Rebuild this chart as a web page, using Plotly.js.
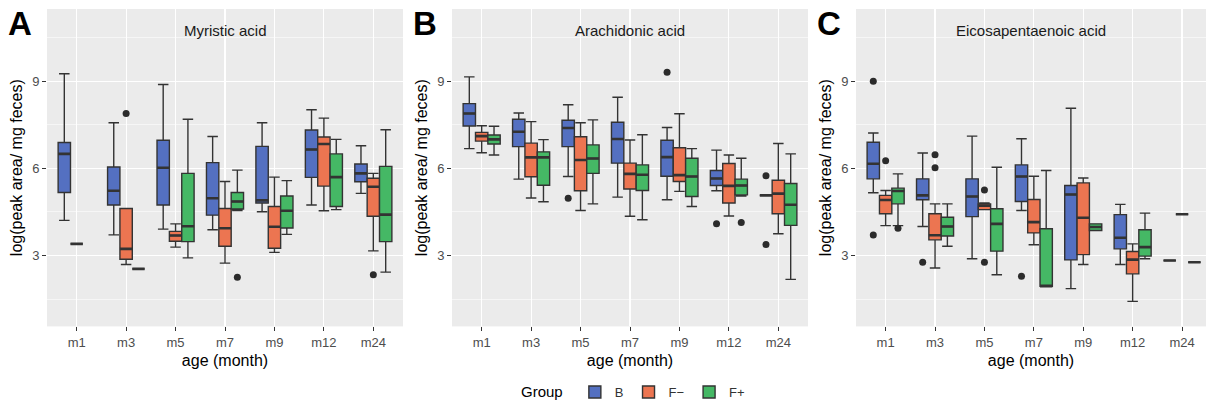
<!DOCTYPE html>
<html>
<head>
<meta charset="utf-8">
<script src="https://cdn.plot.ly/plotly-3.0.1.min.js"></script>
<style>html,body{margin:0;padding:0;overflow:hidden;background:#fff}#chart{width:1206px;height:407px}</style>
</head>
<body>
<div id="chart"></div>
<script>
// ---- data (each entry: [lower whisker, Q1, median, Q3, upper whisker]; null = no data) ----
const categories = ['m1', 'm3', 'm5', 'm7', 'm9', 'm12', 'm24'];
const groups = ['B', 'F\u2212', 'F+'];
const panelTitles = ['Myristic acid', 'Arachidonic acid', 'Eicosapentaenoic acid'];
const panelLetters = ['A', 'B', 'C'];

const myristic_B  = [[4.21,5.17,6.50,6.89,9.26],[3.71,4.74,5.23,6.05,7.57],[3.91,4.74,6.02,6.97,8.89],[3.89,4.39,4.97,6.20,7.10],[4.51,4.81,4.90,6.76,7.57],[4.74,5.69,6.65,7.32,8.02],[5.14,5.54,5.83,6.15,6.78]];
const myristic_Fm = [[3.40,3.40,3.40,3.40,3.40],[2.69,2.87,3.23,4.62,4.62],[3.29,3.49,3.69,3.83,4.09],[2.74,3.32,3.94,4.62,5.55],[3.11,3.25,3.99,4.69,5.70],[4.54,5.39,6.84,7.08,7.73],[3.16,4.35,5.37,5.66,5.83]];
const myristic_Fp = [null,[2.54,2.54,2.54,2.54,2.54],[2.92,3.48,4.01,5.83,7.69],[4.55,4.60,4.86,5.17,5.94],[3.73,3.95,4.54,5.05,5.58],[4.58,4.69,5.70,6.50,7.00],[2.43,3.48,4.41,6.07,7.33]];

const arachidonic_B  = [[6.68,7.46,7.89,8.23,9.15],[5.63,6.75,7.26,7.69,7.91],[5.72,6.75,7.39,7.66,8.19],[5.01,6.18,7.01,7.59,8.45],[4.92,5.73,6.39,6.97,7.41],[5.23,5.41,5.65,5.93,6.63],[5.07,5.07,5.07,5.07,5.07]];
const arachidonic_Fm = [[6.54,6.94,7.11,7.24,7.47],[4.98,5.71,6.38,6.87,7.61],[4.55,5.23,6.29,7.09,7.57],[4.35,5.29,5.81,6.18,6.98],[5.21,5.55,5.77,6.71,7.88],[4.36,4.81,5.40,6.17,6.46],[3.75,4.44,5.13,5.59,6.86]];
const arachidonic_Fp = [[6.46,6.84,7.00,7.15,7.45],[4.85,5.42,6.38,6.57,6.99],[4.78,5.83,6.34,6.81,7.67],[4.23,5.24,5.78,6.12,7.16],[4.69,5.03,5.72,6.35,6.68],[5.05,5.09,5.41,5.63,6.35],[2.18,4.04,4.75,5.48,6.50]];

const epa_B  = [[5.16,5.64,6.16,6.90,7.22],[4.00,4.92,5.07,5.64,6.53],[2.89,4.34,5.03,5.64,7.11],[4.55,4.86,5.72,6.12,7.02],[1.86,2.85,5.10,5.41,8.07],[2.69,3.23,3.61,4.41,4.76],[2.83,2.83,2.83,2.83,2.83]];
const epa_Fm = [[4.03,4.44,4.91,5.07,5.24],[2.57,3.54,3.70,4.44,4.78],[4.58,4.58,4.72,4.78,4.81],[3.37,3.78,4.15,4.93,5.73],[2.69,3.03,4.30,5.50,5.67],[1.42,2.37,2.86,3.14,3.40],[4.42,4.42,4.42,4.42,4.42]];
const epa_Fp = [[4.03,4.78,5.22,5.32,5.81],[3.32,3.67,4.00,4.32,4.78],[2.34,3.15,4.09,4.61,6.04],[1.94,1.94,1.94,3.92,5.93],[3.86,3.86,3.98,4.09,4.09],[2.89,2.98,3.29,3.89,4.46],[2.77,2.77,2.77,2.77,2.77]];

// outliers: [category, value]
const myristic_out_B  = [];
const myristic_out_Fm = [['m3',7.89],['m24',2.34]];
const myristic_out_Fp = [['m7',2.25]];
const arachidonic_out_B  = [['m5',4.97],['m9',9.31],['m12',4.09],['m24',5.75],['m24',3.38]];
const arachidonic_out_Fm = [];
const arachidonic_out_Fp = [['m12',4.14]];
const epa_out_B  = [['m1',9.00],['m1',3.71],['m3',2.77],['m7',2.29]];
const epa_out_Fm = [['m1',6.26],['m3',6.47],['m3',6.02],['m5',5.26],['m5',2.77]];
const epa_out_Fp = [['m1',3.94]];

const groupColors = ['#5470C1', '#EC7551', '#45B865'];

// ---- assemble ----
const panels = [
  {stats: [myristic_B, myristic_Fm, myristic_Fp], out: [myristic_out_B, myristic_out_Fm, myristic_out_Fp]},
  {stats: [arachidonic_B, arachidonic_Fm, arachidonic_Fp], out: [arachidonic_out_B, arachidonic_out_Fm, arachidonic_out_Fp]},
  {stats: [epa_B, epa_Fm, epa_Fp], out: [epa_out_B, epa_out_Fm, epa_out_Fp]}
];
const groupOffset = [-0.25, 0, 0.25];
const boxWidth = 0.25;
const FONT = 'Liberation Sans, Arial, Helvetica, sans-serif';
const W = 1206, H = 407;
const px2x = p => p / W;
const px2y = p => 1 - p / H;

const traces = [];
panels.forEach((pn, pi) => {
  const xa = pi === 0 ? 'x' : 'x' + (pi + 1);
  const ya = pi === 0 ? 'y' : 'y' + (pi + 1);
  pn.stats.forEach((arr, gi) => {
    const xs = [], lo = [], q1 = [], md = [], q3 = [], hi = [];
    arr.forEach((s, ci) => {
      if (!s) return;
      xs.push(ci + groupOffset[gi]);
      lo.push(s[0]); q1.push(s[1]); md.push(s[2]); q3.push(s[3]); hi.push(s[4]);
    });
    traces.push({
      type: 'box', xaxis: xa, yaxis: ya, name: groups[gi], legendgroup: groups[gi],
      showlegend: pi === 0, x: xs, q1: q1, median: md, q3: q3, lowerfence: lo, upperfence: hi,
      width: boxWidth, whiskerwidth: 0.85, fillcolor: groupColors[gi],
      line: {color: '#333333', width: 1.4}, boxpoints: false, hoverinfo: 'skip'
    });
    // thicker median line (ggplot style)
    traces.push({
      type: 'box', xaxis: xa, yaxis: ya, name: groups[gi], legendgroup: groups[gi],
      showlegend: false, x: xs, q1: md, median: md, q3: md, lowerfence: md, upperfence: md,
      width: boxWidth, whiskerwidth: 0, fillcolor: 'rgba(0,0,0,0)',
      line: {color: '#333333', width: 2.6}, boxpoints: false, hoverinfo: 'skip'
    });
    const o = pn.out[gi];
    if (o.length) {
      traces.push({
        type: 'scatter', mode: 'markers', xaxis: xa, yaxis: ya, showlegend: false,
        x: o.map(d => categories.indexOf(d[0]) + groupOffset[gi]), y: o.map(d => d[1]),
        marker: {color: '#2b2b2b', size: 7}, hoverinfo: 'skip'
      });
    }
  });
});

const panelPx = [[47, 403], [452, 808], [856, 1206]];
const xRanges = [[-0.6, 6.6], [-0.6, 6.6], [-0.6, -0.6 + 350 / 49.4]];
const yDomain = [px2y(328), px2y(9)];

const layout = {
  width: W, height: H,
  margin: {l: 0, r: 0, t: 0, b: 0},
  paper_bgcolor: '#ffffff', plot_bgcolor: '#EBEBEB',
  font: {family: FONT, color: '#000'},
  showlegend: true,
  legend: {
    orientation: 'h', x: px2x(519), xanchor: 'left', y: px2y(394), yanchor: 'middle',
    title: {text: 'Group ', side: 'left', font: {size: 15, color: '#000'}},
    font: {size: 13, color: '#333'}, bgcolor: 'rgba(0,0,0,0)', itemwidth: 30, tracegroupgap: 0
  },
  annotations: [],
  hovermode: false
};

for (let i = 0; i < 3; i++) {
  const sfx = i === 0 ? '' : String(i + 1);
  layout['xaxis' + sfx] = {
    domain: [px2x(panelPx[i][0]), px2x(panelPx[i][1])], range: xRanges[i], anchor: 'y' + sfx,
    tickmode: 'array', tickvals: categories.map((c, k) => k), ticktext: categories,
    showgrid: true, gridcolor: '#ffffff', gridwidth: 1.1, zeroline: false, showline: false,
    ticks: 'outside', ticklen: 4, tickwidth: 1, tickcolor: '#333333',
    tickfont: {size: 13, color: '#4D4D4D'},
    title: {text: 'age (month)', font: {size: 16, color: '#000'}, standoff: 5}
  };
  layout['yaxis' + sfx] = {
    domain: yDomain, range: [0.56, 11.49], anchor: 'x' + sfx,
    tickmode: 'array', tickvals: [3, 6, 9],
    showgrid: true, gridcolor: '#ffffff', gridwidth: 1.1, zeroline: false, showline: false,
    minor: {tickmode: 'array', tickvals: [1.5, 4.5, 7.5, 10.5], showgrid: true, gridcolor: '#ffffff', gridwidth: 0.55, ticks: ''},
    ticks: 'outside', ticklen: 4, tickwidth: 1, tickcolor: '#333333',
    tickfont: {size: 13, color: '#4D4D4D'},
    title: {text: 'log(peak area/ mg feces)', font: {size: 16, color: '#000'}, standoff: 5}
  };
  const cx = (panelPx[i][0] + Math.min(panelPx[i][1], panelPx[i][0] + 356)) / 2;
  layout.annotations.push({
    xref: 'paper', yref: 'paper', x: px2x(cx), y: px2y(31), xanchor: 'center', yanchor: 'middle',
    text: panelTitles[i], showarrow: false, font: {size: 15, color: '#1A1A1A'}
  });
  layout.annotations.push({
    xref: 'paper', yref: 'paper', x: px2x(panelPx[i][0] - 41), y: px2y(24), xanchor: 'left', yanchor: 'middle',
    text: '<b>' + panelLetters[i] + '</b>', showarrow: false, font: {size: 33, color: '#000'}
  });
}

Plotly.newPlot('chart', traces, layout, {displayModeBar: false, staticPlot: true});
</script>
</body>
</html>
